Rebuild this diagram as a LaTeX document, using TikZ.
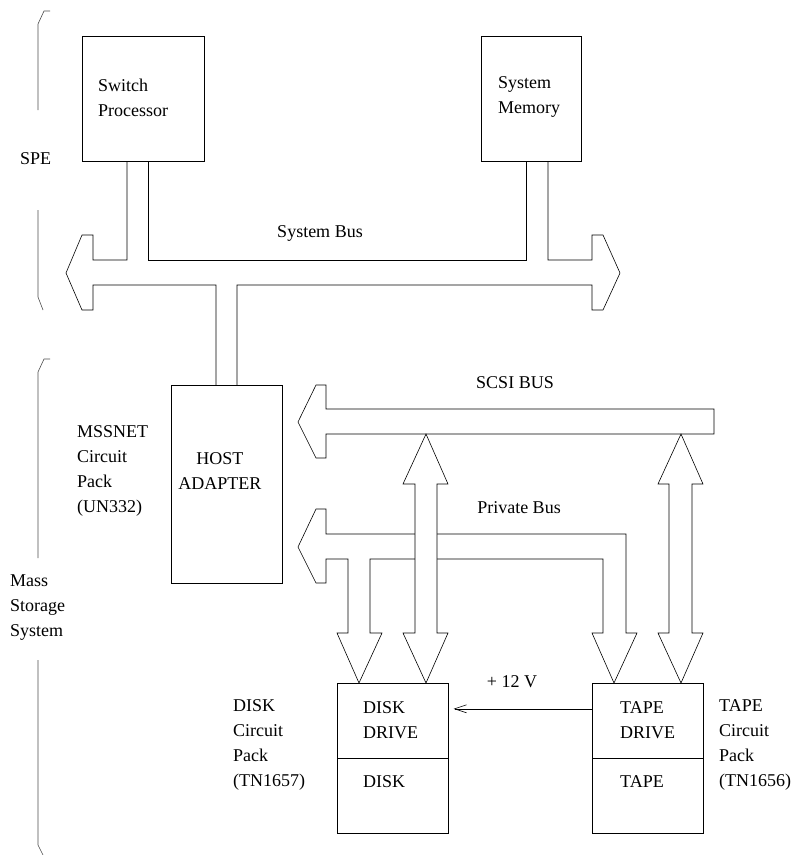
\documentclass[tikz,border=0pt]{standalone}
\usepackage{fontspec}
\setmainfont{Liberation Serif}
\newfontfamily\labelfont{Liberation Serif}
\usetikzlibrary{arrows.meta,calc}

\tikzset{
  box/.style={draw, line width=0.6pt, inner sep=0pt, anchor=north west},
  txt/.style={font=\labelfont\fontsize{18pt}{25pt}\selectfont, inner sep=0pt, align=left, anchor=west},
  bus/.style={draw, line width=0.6pt, fill=white, line join=miter},
  brace/.style={draw=black!70, line width=0.6pt},
}

\begin{document}
\begin{tikzpicture}[x=1pt, y=-1pt]
  \useasboundingbox (0,0) rectangle (795,855);
  % boxes
  \node[box, minimum width=122pt, minimum height=125pt] (proc) at (82,36) {};
  \node[box, minimum width=100pt, minimum height=125pt] (mem) at (481,36) {};
  \node[box, minimum width=111pt, minimum height=198pt] (host) at (171,385) {};
  \node[box, minimum width=111pt, minimum height=75pt] (ddrive) at (337,683) {};
  \node[box, minimum width=111pt, minimum height=75pt] (disk) at (337,758) {};
  \node[box, minimum width=111pt, minimum height=75pt] (tdrive) at (592,683) {};
  \node[box, minimum width=111pt, minimum height=75pt] (tape) at (592,758) {};

  % system bus, left half with stubs to processor and host
  \draw[bus, fill=none] (127,0 |- proc.south) -- (127,260) -- (93,260) -- (93,235) -- (82,235)
    -- (66,273) -- (82,310) -- (93,310) -- (93,285) -- (216,285) -- (216,0 |- host.north);
  \draw[bus, fill=none] (148,0 |- proc.south) -- (148,260) -- (526,260) -- (526,0 |- mem.south);
  \draw[bus, fill=none] (548,0 |- mem.south) -- (548,260) -- (592,260) -- (592,235) -- (603,235)
    -- (620,273) -- (603,310) -- (592,310) -- (592,285) -- (237,285) -- (237,0 |- host.north);

  % SCSI bus
  \draw[bus] (714,409) -- (326,409) -- (326,385) -- (316,385) -- (298,422) -- (316,458)
    -- (326,458) -- (326,434) -- (714,434) -- cycle;

  % private bus, down to both drives
  \draw[bus] (626,633) -- (626,534) -- (326,534) -- (326,509) -- (316,509) -- (298,547)
    -- (316,583) -- (326,583) -- (326,559) -- (348,559) -- (348,633) -- (337,633)
    -- (359,0 |- ddrive.north) -- (382,633) -- (370,633) -- (370,559) -- (603,559)
    -- (603,633) -- (592,633) -- (614,0 |- tdrive.north) -- (637,633) -- cycle;

  % SCSI taps (drawn over the private bus)
  \draw[bus] (426,434) -- (448,484) -- (437,484) -- (437,633) -- (448,633)
    -- (426,0 |- ddrive.north) -- (403,633) -- (415,633) -- (415,484) -- (403,484) -- cycle;
  \draw[bus] (681,434) -- (703,484) -- (692,484) -- (692,633) -- (703,633)
    -- (681,0 |- tdrive.north) -- (658,633) -- (669,633) -- (669,484) -- (658,484) -- cycle;

  % +12 V feed
  \draw[line width=0.6pt, -{Straight Barb[length=12pt, width=8pt]}, shorten >=5pt]
    ($(tdrive.west)+(0,-12)$) -- ($(ddrive.east)+(0,-12)$);

  % braces on the left
  \draw[brace] (50,11) -- (44,11) -- (38,24) -- (38,110);
  \draw[brace] (38,210) -- (38,297) -- (43,310);
  \draw[brace] (50,359) -- (44,359) -- (38,372) -- (38,558);
  \draw[brace] (38,660) -- (38,845) -- (43,855);

  % labels
  \node[txt] (proclbl) at (98,98) {Switch\\Processor};
  \node[txt] (memlbl) at (498,97) {System\\Memory};
  \node[txt, align=center, anchor=center] (hostlbl) at (220,471) {HOST\\ADAPTER};
  \node[txt] (ddrivelbl) at (363,720) {DISK\\DRIVE};
  \node[txt] (disklbl) at (363,782) {DISK};
  \node[txt] (tdrivelbl) at (620,720) {TAPE\\DRIVE};
  \node[txt] (tapelbl) at (620,782) {TAPE};
  \node[txt] (spe) at (20,159) {SPE};
  \node[txt] (mss) at (10,608) {Mass\\Storage\\System};
  \node[txt] (msspack) at (77,471) {MSSNET\\Circuit\\Pack\\(UN332)};
  \node[txt] (diskpack) at (233,745) {DISK\\Circuit\\Pack\\(TN1657)};
  \node[txt] (tapepack) at (719,745) {TAPE\\Circuit\\Pack\\(TN1656)};
  \node[txt, anchor=center] (sysbus) at (320,233) {System Bus};
  \node[txt, anchor=center] (scsi) at (515,383) {SCSI BUS};
  \node[txt, anchor=center] (priv) at (519,508) {Private Bus};
  \node[txt, anchor=center] (volt) at (512,682) {+ 12 V};
\end{tikzpicture}
\end{document}
